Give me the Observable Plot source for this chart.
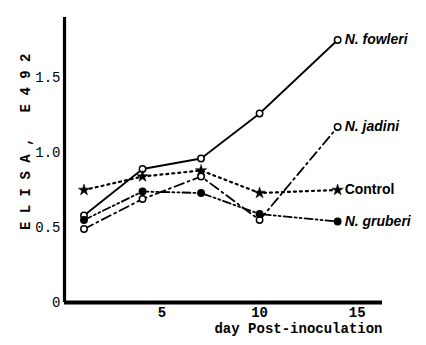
<!DOCTYPE html>
<html>
<head>
<meta charset="utf-8">
<script src="https://cdn.jsdelivr.net/npm/d3@7"></script>
<script src="https://cdn.jsdelivr.net/npm/@observablehq/plot@0.6"></script>
<style>
  html, body { margin: 0; padding: 0; background: #fff; }
  #chart svg { display: block; }
</style>
</head>
<body>
<div id="chart"></div>
<script>
const days = [1, 4, 7, 10, 14];
const fowleri = [0.58, 0.89, 0.96, 1.26, 1.75];
const jadini = [0.49, 0.69, 0.84, 0.55, 1.17];
const control = [0.75, 0.84, 0.88, 0.73, 0.75];
const gruberi = [0.55, 0.74, 0.73, 0.59, 0.54];
const seriesNames = ["N. fowleri", "N. jadini", "Control", "N. gruberi"];
const xTicks = [5, 10, 15];
const yTicks = [0, 0.5, 1.0, 1.5];
const xLabel = "day Post-inoculation";
const yLabel = "ELISA, E492";

const seriesValues = [fowleri, jadini, control, gruberi];
const styles = {
  "N. fowleri": {dash: null, width: 1.8, symbol: "circle", fill: "white", r: 3.2},
  "N. jadini": {dash: "10,4,2,4", width: 1.8, symbol: "circle", fill: "white", r: 3.2},
  "Control": {dash: "2,4", width: 2.2, symbol: "star", fill: "black", r: 3.6},
  "N. gruberi": {dash: "8,3,2,3,2,3", width: 1.8, symbol: "circle", fill: "black", r: 3.2}
};
const data = seriesNames.map((name, i) => days.map((d, j) => ({name, day: d, value: seriesValues[i][j]})));
const mono = "'Liberation Mono', 'DejaVu Sans Mono', monospace";

const marks = [
  Plot.ruleX([0], {strokeWidth: 3.2}),
  Plot.ruleY([0], {strokeWidth: 4}),
  Plot.axisX({ticks: xTicks, tickSize: 0, tickPadding: 5, fontSize: 14, fontFamily: mono, fontWeight: "bold", label: null}),
  Plot.axisY({ticks: yTicks, tickSize: 0, tickPadding: 4, fontSize: 14, fontFamily: mono, label: null,
    tickFormat: d => d === 0 ? "0" : d.toFixed(1)}),
  Plot.text([xLabel], {frameAnchor: "bottom-right", text: d => d, dy: 30, textAnchor: "end",
    fontSize: 14, fontFamily: mono, fontWeight: "bold"})
];
data.forEach(series => {
  const s = styles[series[0].name];
  marks.push(Plot.line(series, {x: "day", y: "value", stroke: "black", strokeWidth: s.width, strokeDasharray: s.dash}));
});
data.forEach(series => {
  const s = styles[series[0].name];
  marks.push(Plot.dot(series, {x: "day", y: "value", symbol: s.symbol, r: s.r, fill: s.fill, stroke: "black", strokeWidth: s.symbol === "star" ? 0.5 : 1.5}));
  const last = series[series.length - 1];
  marks.push(Plot.text([last], {x: "day", y: "value", text: "name", textAnchor: "start", dx: 7,
    fontSize: 14, fontFamily: "'Liberation Sans', Arial, sans-serif", fontWeight: "bold",
    fontStyle: last.name === "Control" ? "normal" : "italic"}));
});

const chart = Plot.plot({
  width: 426,
  height: 345,
  marginLeft: 64,
  marginRight: 44,
  marginTop: 17,
  marginBottom: 43,
  style: {background: "white", color: "black", overflow: "visible"},
  x: {domain: [0, 16.3]},
  y: {domain: [0, 1.9]},
  marks
});
// rotated, letter-spaced y-axis title (typewriter style)
d3.select(chart).append("text")
  .attr("transform", "translate(30,230) rotate(-90)")
  .attr("text-anchor", "start")
  .attr("font-family", mono)
  .attr("font-weight", "bold")
  .attr("font-size", 14)
  .style("letter-spacing", "8.4px")
  .attr("fill", "black")
  .text(yLabel);
document.getElementById("chart").append(chart);
</script>
</body>
</html>
